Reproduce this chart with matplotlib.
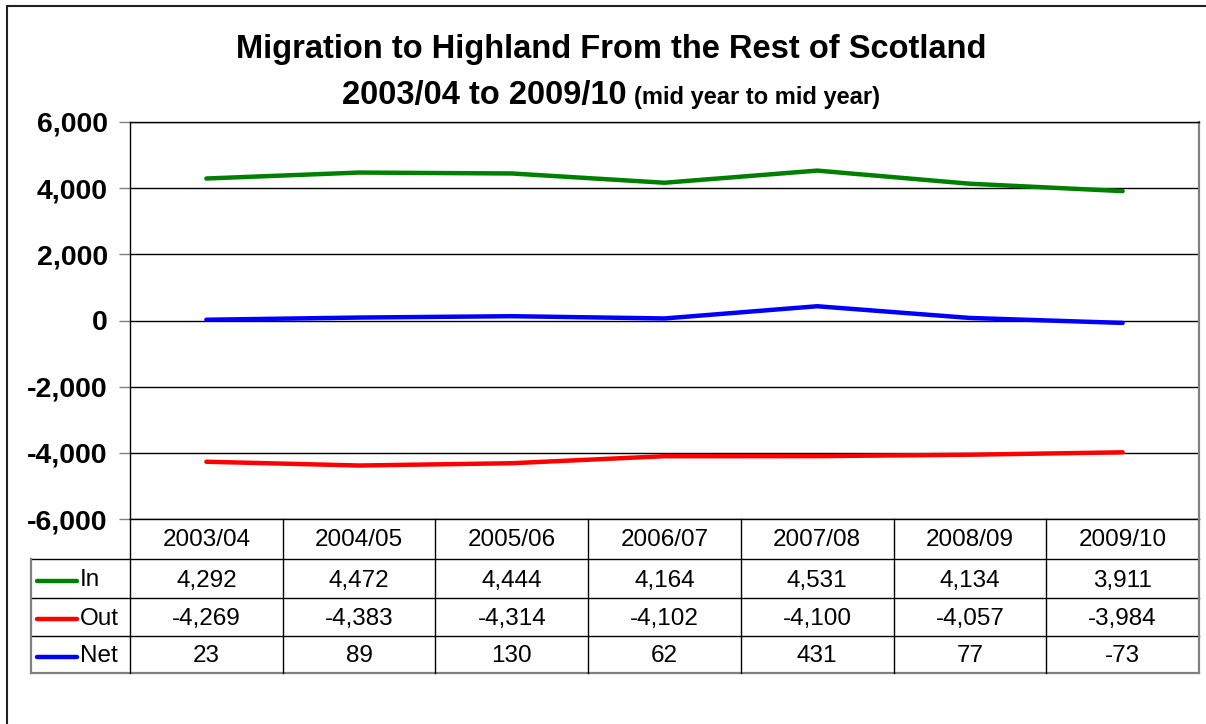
import matplotlib
matplotlib.use("Agg")
import matplotlib.pyplot as plt
import matplotlib.transforms as mtransforms
from matplotlib.lines import Line2D
from matplotlib.patches import Rectangle

plt.rcParams['font.family'] = ['Liberation Sans', 'DejaVu Sans']

categories = ["2003/04", "2004/05", "2005/06", "2006/07", "2007/08", "2008/09", "2009/10"]
series_names = ["In", "Out", "Net"]
in_values = [4292, 4472, 4444, 4164, 4531, 4134, 3911]
out_values = [-4269, -4383, -4314, -4102, -4100, -4057, -3984]
net_values = [23, 89, 130, 62, 431, 77, -73]
series_colors = ["#008000", "#FF0000", "#0000FF"]
y_ticks = [-6000, -4000, -2000, 0, 2000, 4000, 6000]

W, H = 1206, 724
fig = plt.figure(figsize=(W / 100, H / 100), dpi=100)

def fx(px):
    return px / W

def fy(py):
    return 1 - py / H

# outer border (right and bottom edges fall outside the image)
fig.add_artist(Rectangle((fx(7), fy(740)), fx(1220) - fx(7), fy(6) - fy(740),
                         transform=fig.transFigure, fill=False, edgecolor="#202020",
                         linewidth=1.5, clip_on=False))

L, R, T, B = 130, 1199, 122, 519
ax = fig.add_axes([fx(L), fy(B), fx(R) - fx(L), fy(T) - fy(B)])
n = len(categories)
xs = list(range(n))
ax.set_xlim(-0.5, n - 0.5)
ax.set_ylim(-6000, 6000)
ax.set_yticks(y_ticks)
ax.set_yticklabels([f"{v:,}" for v in y_ticks], fontsize=20.5, fontweight="bold")
ax.set_xticks([])
ax.tick_params(axis="y", length=8, width=1, color="#808080", pad=8)
for s in ax.spines.values():
    s.set_color("black")
    s.set_linewidth(1)
ax.spines["right"].set_color("#808080")
ax.spines["right"].set_linewidth(1.6)
for v in y_ticks:
    ax.axhline(v, color="black", linewidth=1, zorder=1)

all_values = [in_values, out_values, net_values]
for vals, c in zip(all_values, series_colors):
    ax.plot(xs, vals, color=c, linewidth=3.2, solid_capstyle="round", zorder=3)

# table
blend = mtransforms.blended_transform_factory(ax.transData, fig.transFigure)
row_edges = [519, 559, 598, 636, 673]
left_px = 31
left_data = -0.5 - (L - left_px) / ((R - L) / n)

def hline(py, x0, x1, color="black", lw=1):
    fig.add_artist(Line2D([x0, x1], [fy(py), fy(py)], transform=blend, color=color, linewidth=lw))

def vline(xd, y0, y1, color="black", lw=1):
    fig.add_artist(Line2D([xd, xd], [fy(y0), fy(y1)], transform=blend, color=color, linewidth=lw))

for py in row_edges[1:4]:
    hline(py, left_data, n - 0.5)
hline(row_edges[4], left_data, n - 0.5, color="#808080", lw=1.6)
for i in range(n):
    vline(i - 0.5, row_edges[0], row_edges[4])
vline(n - 0.5, row_edges[0], row_edges[4], color="#808080", lw=1.6)
vline(left_data, row_edges[1], row_edges[4], color="#808080", lw=1.6)

for i, cat in enumerate(categories):
    fig.text(i, fy((row_edges[0] + row_edges[1]) / 2 + 1), cat, transform=blend,
             ha="center", va="center", fontsize=17.5)
for r, (vals, c, name) in enumerate(zip(all_values, series_colors, series_names)):
    yc = fy((row_edges[r + 1] + row_edges[r + 2]) / 2 + 2)
    for i, v in enumerate(vals):
        fig.text(i, yc, f"{v:,}", transform=blend, ha="center", va="center", fontsize=17.5)
    fig.add_artist(Line2D([fx(37), fx(77)], [yc, yc], transform=fig.transFigure,
                          color=c, linewidth=3.2, solid_capstyle="round"))
    fig.text(fx(80), yc, name, ha="left", va="center", fontsize=17.5)

# title
fig.text(fx(611), fy(58), "Migration to Highland From the Rest of Scotland",
         ha="center", va="baseline", fontsize=23.5, fontweight="bold")
t1 = fig.text(0, fy(104), "2003/04 to 2009/10", ha="left", va="baseline",
              fontsize=23.5, fontweight="bold")
t2 = fig.text(0, fy(104), "(mid year to mid year)", ha="left", va="baseline",
              fontsize=17, fontweight="bold")
fig.canvas.draw()
r = fig.canvas.get_renderer()
w1 = t1.get_window_extent(r).width
w2 = t2.get_window_extent(r).width
gap = 8
start = 611 - (w1 + gap + w2) / 2
t1.set_x(fx(start))
t2.set_x(fx(start + w1 + gap))

fig.savefig("out.png", dpi=100)
